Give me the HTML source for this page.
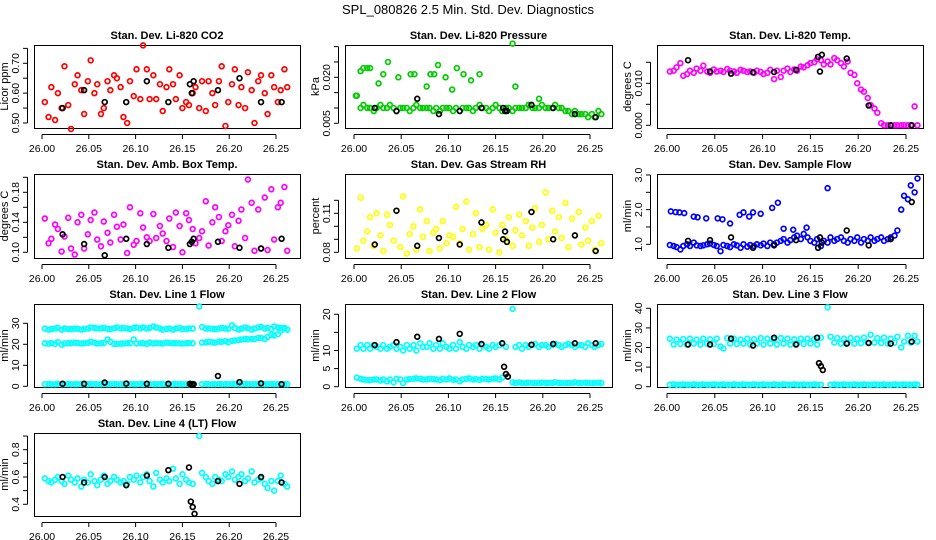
<!DOCTYPE html>
<html><head><meta charset="utf-8"><title>SPL_080826 2.5 Min. Std. Dev. Diagnostics</title>
<style>
html,body{margin:0;padding:0;background:#fff;}
svg{display:block;font-family:"Liberation Sans",sans-serif;}
</style></head>
<body>
<svg id="chart" width="936" height="540" viewBox="0 0 936 540"></svg>
<script>
// ---------- data ----------
const T=[26.003,26.007,26.010,26.014,26.017,26.021,26.024,26.028,26.031,26.035,26.038,26.042,26.045,26.049,26.052,26.056,26.059,26.063,26.066,26.070,26.073,26.077,26.080,26.084,26.087,26.091,26.094,26.098,26.101,26.105,26.108,26.112,26.115,26.119,26.122,26.126,26.129,26.133,26.136,26.140,26.143,26.147,26.150,26.154,26.157,26.161,26.164,26.168,26.171,26.175,26.178,26.182,26.185,26.189,26.192,26.196,26.199,26.203,26.206,26.210,26.213,26.217,26.220,26.224,26.227,26.231,26.234,26.238,26.241,26.245,26.248,26.252,26.255,26.259,26.262];
const blackT=[26.022,26.045,26.067,26.090,26.112,26.135,26.158,26.160,26.162,26.188,26.211,26.234,26.256];
const blackT2=[26.022,26.045,26.067,26.090,26.112,26.135,26.157,26.159,26.161,26.163,26.188,26.211,26.234,26.256];

const co2=[0.57,0.52,0.62,0.51,0.60,0.55,0.69,0.56,0.48,0.63,0.66,0.61,0.53,0.64,0.71,0.60,0.63,0.53,0.55,0.64,0.61,0.66,0.65,0.62,0.52,0.50,0.64,0.59,0.68,0.58,0.76,0.68,0.58,0.66,0.58,0.63,0.54,0.62,0.68,0.63,0.58,0.66,0.55,0.57,0.56,0.60,0.62,0.55,0.64,0.54,0.64,0.60,0.56,0.64,0.69,0.49,0.57,0.63,0.68,0.56,0.62,0.55,0.67,0.61,0.50,0.64,0.66,0.60,0.53,0.66,0.62,0.57,0.61,0.68,0.62];
const co2Black=[0.55,0.61,0.57,0.57,0.64,0.57,0.63,0.60,0.64,0.61,0.65,0.57,0.57];

const press=[0.014,0.010,0.011,0.010,0.010,0.009,0.010,0.011,0.010,0.010,0.011,0.010,0.009,0.010,0.010,0.010,0.009,0.010,0.011,0.010,0.010,0.010,0.010,0.009,0.010,0.009,0.010,0.010,0.010,0.009,0.010,0.009,0.010,0.010,0.010,0.009,0.010,0.011,0.010,0.010,0.009,0.010,0.011,0.010,0.009,0.010,0.010,0.009,0.010,0.010,0.010,0.010,0.011,0.010,0.010,0.010,0.011,0.010,0.010,0.010,0.011,0.010,0.010,0.009,0.009,0.008,0.009,0.008,0.008,0.008,0.007,0.008,0.007,0.009,0.008];
const pressHiT=[26.002,26.007,26.010,26.014,26.017,26.026,26.031,26.036,26.047,26.060,26.064,26.077,26.081,26.085,26.089,26.097,26.104,26.109,26.116,26.124,26.133,26.168,26.171,26.196];
const pressHi=[0.014,0.022,0.023,0.023,0.023,0.018,0.021,0.025,0.020,0.021,0.021,0.017,0.021,0.021,0.024,0.020,0.016,0.023,0.021,0.019,0.021,0.031,0.017,0.013];
const pressBlack=[0.010,0.009,0.013,0.008,0.009,0.010,0.010,0.009,0.009,0.011,0.010,0.008,0.007];

const temp=[0.0128,0.0130,0.0138,0.0148,0.0118,0.0122,0.0130,0.0125,0.0135,0.0130,0.0142,0.0128,0.0125,0.0133,0.0128,0.0130,0.0127,0.0134,0.0130,0.0128,0.0125,0.0132,0.0130,0.0127,0.0128,0.0125,0.0130,0.0127,0.0122,0.0125,0.0132,0.0110,0.0130,0.0115,0.0130,0.0135,0.0127,0.0133,0.0130,0.0140,0.0138,0.0143,0.0148,0.0150,0.0157,0.0155,0.0145,0.0152,0.0145,0.0160,0.0155,0.0148,0.0140,0.0152,0.0125,0.0120,0.0100,0.0085,0.0080,0.0065,0.0048,0.0040,0.0030,0.0005,0.0000,0.0000,0.0000,0.0000,0.0000,0.0000,0.0000,0.0000,0.0000,0.0045,0.0000];
const tempBlack=[0.0155,0.0128,0.0123,0.0126,0.0127,0.0132,0.0163,0.0128,0.0168,0.0159,0.0047,0.0000,0.0000];

const amb=[0.145,0.112,0.118,0.137,0.131,0.101,0.121,0.146,0.105,0.097,0.140,0.150,0.105,0.124,0.143,0.153,0.117,0.108,0.141,0.126,0.113,0.150,0.134,0.117,0.137,0.099,0.160,0.110,0.115,0.152,0.133,0.120,0.115,0.151,0.119,0.135,0.125,0.115,0.145,0.107,0.153,0.135,0.100,0.152,0.143,0.131,0.112,0.119,0.128,0.168,0.109,0.140,0.160,0.147,0.115,0.128,0.136,0.150,0.108,0.142,0.157,0.119,0.197,0.166,0.102,0.157,0.105,0.173,0.103,0.184,0.117,0.160,0.166,0.187,0.102];
const ambBlack=[0.124,0.111,0.096,0.118,0.111,0.106,0.111,0.114,0.118,0.114,0.106,0.105,0.118];

const rh=[0.083,0.122,0.089,0.096,0.107,0.085,0.110,0.093,0.081,0.109,0.101,0.089,0.112,0.084,0.123,0.079,0.094,0.100,0.082,0.113,0.092,0.104,0.081,0.095,0.098,0.083,0.104,0.087,0.093,0.092,0.115,0.087,0.098,0.119,0.082,0.094,0.110,0.084,0.098,0.101,0.082,0.113,0.095,0.080,0.101,0.090,0.107,0.085,0.097,0.109,0.093,0.104,0.085,0.099,0.114,0.088,0.101,0.126,0.090,0.112,0.096,0.107,0.091,0.118,0.084,0.106,0.093,0.111,0.086,0.099,0.089,0.104,0.082,0.108,0.087];
const rhBlack=[0.086,0.112,0.085,0.091,0.086,0.103,0.090,0.096,0.088,0.111,0.090,0.093,0.081];

const flow=[0.98,0.95,0.92,0.85,0.95,1.00,0.95,1.05,0.97,0.95,0.97,1.00,1.02,0.98,0.95,0.80,0.98,0.95,0.92,1.00,0.97,0.90,1.00,0.93,0.98,0.95,1.00,0.97,1.02,0.95,1.05,1.00,1.05,1.10,1.15,1.05,1.12,1.20,1.25,1.15,1.30,1.20,1.10,1.05,1.15,0.95,1.10,1.05,1.20,1.10,1.15,1.20,1.10,1.05,1.15,1.10,1.20,1.05,1.15,1.10,1.20,1.10,1.15,1.20,1.10,1.15,1.20,1.25,1.40,2.00,2.40,2.30,2.70,2.50,2.90];
const flowHiT=[26.004,26.009,26.013,26.018,26.028,26.032,26.041,26.053,26.058,26.066,26.076,26.080,26.086,26.090,26.098,26.110,26.116,26.122,26.132,26.146,26.168];
const flowHi=[1.95,1.93,1.92,1.90,1.80,1.78,1.75,1.75,1.72,1.60,1.85,1.92,1.80,1.92,1.88,2.05,2.20,1.45,1.42,1.48,2.62];
const flowBlack=[1.10,1.12,1.20,0.90,0.97,1.12,0.90,1.20,1.05,1.40,0.97,1.15,2.22];

const l1Hi=[27.5,27,27.2,27.5,27.8,27,27.5,27.3,27.2,27.4,27.4,27,27.3,27.5,28,27.8,27.6,27.6,27.8,27.4,27.2,27.6,28,27.6,27.8,27.5,27.3,27.8,28,27.6,28,27.5,27.8,28.5,28,27.5,27,27.3,27.5,27,27.5,27.8,27.2,27.3,27.5,27.5,null,38,28.3,27.5,27.5,27.4,27.2,27.5,27.8,27.5,27.4,29,27.8,27,27.5,28,27.6,27,27.5,28,28.3,27.5,27.8,27.3,28.5,28,27.8,27.5,27];
const l1Mid=[20.5,20.3,20.6,20.2,21,19.8,20.4,20.6,20.5,20.8,20.6,20.4,20.5,20.7,21.2,20.8,20.4,20.5,20.6,22.3,21.2,20.2,20.2,20.3,20.4,20.5,20.5,22.3,20.4,20.5,20.5,20.2,20.8,20.4,20.6,20.5,20.4,20.8,20.6,20.5,20.6,20.5,20.4,20.5,20.6,20.5,null,null,20.8,20.9,21.2,21,20.8,21.3,21.2,21.5,21,21.6,21.8,22,22.3,22.5,22.4,22.6,22.6,23,23,22.5,23.5,24.5,24.2,24.8,26.5,27.8,27];
const l1Low=[1.0,1.1,1.0,1.0,1.1,1.0,1.0,1.1,1.0,1.0,1.0,1.1,1.0,1.0,1.1,1.0,1.0,1.0,1.1,1.0,1.0,1.1,1.0,1.0,1.0,1.1,1.0,1.0,1.0,1.1,1.0,1.0,1.1,1.0,1.0,1.0,1.1,1.0,1.0,1.0,1.1,1.0,1.0,1.1,1.0,1.2,null,null,1.0,1.1,1.0,1.0,1.0,1.1,1.0,1.0,1.0,1.1,1.0,1.0,1.0,1.1,1.0,1.0,1.0,1.1,1.0,1.0,1.0,1.1,1.0,1.0,1.1,1.0,1.0];
const l1Black=[1.2,1.2,1.8,1.3,1.2,1.2,1.2,1.0,1.0,4.9,2.0,1.4,1.0];

const l2Hi=[10.5,11.5,10.5,11.5,10.5,11.5,11,10.5,11.5,10.5,11,11.5,10.5,11,10,11.5,10.5,11.5,10,12,11,11,12,10.5,11.5,10.5,12,11,10.5,11.5,10.5,12.3,11,10.5,11.5,11,11.5,10.5,11.5,11,10.5,11.5,11,11.5,12,11,null,21.5,11,11.5,10.5,11.5,11,11.5,11.8,11,11.5,11.5,11,11.5,11.8,11.5,11,11.5,11.8,11.5,11,11.5,11.5,11,12,11.5,11,11.5,11.8];
const l2Low=[2.5,2.2,2.0,1.8,1.8,2.0,2.0,1.7,2.0,1.5,2.0,1.2,2.2,2.0,1.0,2.0,2.1,2.2,2.3,2.2,2.0,2.0,2.2,2.1,2.0,1.8,2.2,2.0,2.3,1.9,2.0,1.5,2.0,2.2,2.3,2.0,2.1,1.9,2.2,2.1,2.0,2.2,2.3,2.0,2.5,null,null,1.2,1.0,1.2,1.0,1.0,1.1,1.0,1.0,1.0,1.1,1.0,1.0,1.0,1.2,1.0,1.0,1.0,1.0,1.0,1.2,1.0,1.0,1.1,1.0,1.0,1.0,1.1,1.0];
const l2Black=[11.5,12.3,13.8,13.2,14.6,11.8,12.0,5.5,3.5,2.8,11.6,11.8,12.0,12.0];

const l3Hi=[24.5,21.5,24,21.8,24.3,21.5,24.5,22,24,21.5,24.5,22,24.2,21.8,24.5,20.5,19.5,24.8,22,24.5,21.8,24,22,24.5,21.5,24.2,22,24.8,21.5,24.5,22,24.2,21.5,24.8,22,24.5,21.5,24.2,22,24.5,21.8,24.5,22,24.3,21.5,25,null,40.5,25.5,22.5,24.8,22,24.5,22.3,24.8,22,24.5,22.2,25,22.5,26.5,22.5,24.8,22.3,25,22,24.5,22.5,25.5,20,23,26,22.5,26,23];
const l3Low=[1.0,1.2,1.0,1.0,1.2,1.0,1.0,1.2,1.0,1.0,1.2,1.0,1.0,1.2,1.0,1.0,1.2,1.0,1.0,1.2,1.0,1.0,1.2,1.0,1.0,1.2,1.0,1.0,1.2,1.0,1.0,1.2,1.0,1.0,1.2,1.0,1.0,1.2,1.0,1.0,1.2,1.0,1.0,1.2,1.0,1.0,null,null,1.0,1.2,1.0,1.0,1.2,1.0,1.0,1.2,1.0,1.0,1.2,1.0,1.0,1.2,1.0,1.0,1.2,1.0,1.0,1.2,1.0,1.0,1.2,1.0,1.0,1.2,1.0];
const l3Black=[21.5,21.5,24.5,21,25,21.5,25,12,10.5,8.5,22,22.3,22,23];

const l4=[0.59,0.57,0.56,0.58,0.60,0.57,0.55,0.61,0.58,0.56,0.59,0.53,0.58,0.56,0.62,0.57,0.54,0.58,0.61,0.55,0.57,0.60,0.58,0.56,0.57,0.55,0.60,0.58,0.61,0.56,0.60,0.62,0.57,0.53,0.63,0.58,0.56,0.59,0.57,0.66,0.59,0.55,0.62,0.58,0.56,0.55,null,0.90,0.63,0.60,0.57,0.55,0.60,0.58,0.57,0.62,0.60,0.64,0.58,0.60,0.62,0.57,0.59,0.64,0.56,0.58,0.59,0.55,0.52,0.57,0.50,0.57,0.61,0.55,0.53];
const l4Black=[0.60,0.56,0.60,0.54,0.61,0.65,0.67,0.42,0.38,0.33,0.57,0.55,0.60,0.56];

const xTicks=[26.00,26.05,26.10,26.15,26.20,26.25];

// ---------- drawing ----------
const NS='http://www.w3.org/2000/svg';
const svg=document.getElementById('chart');
function mk(tag,attrs,parent){const e=document.createElementNS(NS,tag);for(const k in attrs)e.setAttribute(k,attrs[k]);(parent||svg).appendChild(e);return e;}

const title=mk('text',{x:468,y:14,'text-anchor':'middle','font-size':13});
title.textContent='SPL_080826  2.5 Min. Std. Dev. Diagnostics';



const cols=[{l:34,r:300,x0:42,x1:276},{l:345,r:612,x0:354,x1:590},{l:657,r:923,x0:667,x1:906}];
const rows=[{t:45,b:128},{t:174,b:258},{t:304,b:387},{t:433,b:516}];

const panels=[
 {name:'co2',title:'Stan. Dev. Li-820 CO2',yl:'Licor ppm',c:0,r:0,v0:0.50,y0:123,v1:0.70,y1:63.3,ticks:[0.50,0.55,0.60,0.65,0.70,0.75],labels:['0.50','0.60','0.70'],dec:2,
  series:[{t:T,v:co2,col:'#ff0000'},{t:blackT,v:co2Black,col:'#000'}]},
 {name:'pressure',title:'Stan. Dev. Li-820 Pressure',yl:'kPa',c:1,r:0,v0:0.005,y0:123.3,v1:0.020,y1:77.3,ticks:[0.005,0.010,0.015,0.020,0.025,0.030],labels:['0.005','0.020'],dec:3,
  series:[{t:T,v:press,col:'#00cc00'},{t:pressHiT,v:pressHi,col:'#00cc00'},{t:blackT,v:pressBlack,col:'#000'}]},
 {name:'li820-temp',title:'Stan. Dev. Li-820 Temp.',yl:'degrees C',c:2,r:0,v0:0,y0:125.3,v1:0.010,y1:83.3,ticks:[0,0.005,0.010,0.015],labels:['0.000','0.010'],dec:3,
  series:[{t:T,v:temp,col:'#ff00ff'},{t:blackT,v:tempBlack,col:'#000'}]},
 {name:'amb-box-temp',title:'Stan. Dev. Amb. Box Temp.',yl:'degrees C',c:0,r:1,v0:0.10,y0:252.3,v1:0.18,y1:192.3,ticks:[0.10,0.12,0.14,0.16,0.18,0.20],labels:['0.10','0.14','0.18'],dec:2,
  series:[{t:T,v:amb,col:'#ff00ff'},{t:blackT,v:ambBlack,col:'#000'}]},
 {name:'gas-stream-rh',title:'Stan. Dev. Gas Stream RH',yl:'percent',c:1,r:1,v0:0.08,y0:252.3,v1:0.11,y1:213.3,ticks:[0.08,0.09,0.10,0.11,0.12],labels:['0.08','0.11'],dec:2,
  series:[{t:T,v:rh,col:'#ffff00'},{t:blackT,v:rhBlack,col:'#000'}]},
 {name:'sample-flow',title:'Stan. Dev. Sample Flow',yl:'ml/min',c:2,r:1,v0:1.0,y0:244.3,v1:3.0,y1:175,ticks:[1.0,1.5,2.0,2.5,3.0],labels:['1.0','2.0','3.0'],dec:1,
  series:[{t:T,v:flow,col:'#0000ff'},{t:flowHiT,v:flowHi,col:'#0000ff'},{t:blackT,v:flowBlack,col:'#000'}]},
 {name:'line1-flow',title:'Stan. Dev. Line 1 Flow',yl:'ml/min',c:0,r:2,v0:0,y0:386.3,v1:30,y1:323.3,ticks:[0,10,20,30],labels:['0','10','20','30'],dec:0,
  series:[{t:T,v:l1Hi,col:'#00ffff'},{t:T,v:l1Mid,col:'#00ffff'},{t:T,v:l1Low,col:'#00ffff'},{t:blackT,v:l1Black,col:'#000'}]},
 {name:'line2-flow',title:'Stan. Dev. Line 2 Flow',yl:'ml/min',c:1,r:2,v0:0,y0:386.7,v1:20,y1:314.3,ticks:[0,5,10,15,20],labels:['0','5','10','20'],dec:0,
  series:[{t:T,v:l2Hi,col:'#00ffff'},{t:T,v:l2Low,col:'#00ffff'},{t:blackT2,v:l2Black,col:'#000'}]},
 {name:'line3-flow',title:'Stan. Dev. Line 3 Flow',yl:'ml/min',c:2,r:2,v0:0,y0:386.7,v1:40,y1:308.3,ticks:[0,10,20,30,40],labels:['0','10','20','30','40'],dec:0,
  series:[{t:T,v:l3Hi,col:'#00ffff'},{t:T,v:l3Low,col:'#00ffff'},{t:blackT2,v:l3Black,col:'#000'}]},
 {name:'line4-flow',title:'Stan. Dev. Line 4 (LT) Flow',yl:'ml/min',c:0,r:3,v0:0.4,y0:504.3,v1:0.8,y1:449.7,ticks:[0.4,0.5,0.6,0.7,0.8,0.9],labels:['0.4','0.6','0.8'],dec:1,
  series:[{t:T,v:l4,col:'#00ffff'},{t:blackT2,v:l4Black,col:'#000'}]}
];

panels.forEach(p=>{
  const C=cols[p.c],R=rows[p.r];
  const g=mk('g',{});
  
  
  const xs=t=>C.x0+(t-26.0)/(0.25)*(C.x1-C.x0);
  const ys=v=>p.y0+(v-p.v0)/(p.v1-p.v0)*(p.y1-p.y0);
  const box=mk('rect',{x:C.l+0.5,y:R.t+0.5,width:C.r-C.l,height:R.b-R.t,fill:'none',stroke:'#000','stroke-width':1},g);
  
  
  const tt=mk('text',{x:(C.l+C.r)/2,y:R.t-6,'text-anchor':'middle','font-size':11,'font-weight':'bold'},g);
  tt.textContent=p.title;
  
  
  const xa=mk('g',{},g);
  
  
  mk('line',{x1:xs(xTicks[0]),x2:xs(xTicks[xTicks.length-1]),y1:R.b+6.5,y2:R.b+6.5,stroke:'#000'},xa);
  xTicks.forEach(t=>{
    mk('line',{x1:xs(t),x2:xs(t),y1:R.b+6.5,y2:R.b+11,stroke:'#000'},xa);
    const lb=mk('text',{x:xs(t),y:R.b+24,'text-anchor':'middle','font-size':10.5},xa);
    lb.textContent=t.toFixed(2);
    
    
  });
  const ya=mk('g',{},g);
  
  
  const tk=p.ticks;
  mk('line',{x1:C.l-6.5,x2:C.l-6.5,y1:ys(tk[0]),y2:ys(tk[tk.length-1]),stroke:'#000'},ya);
  tk.forEach(v=>{
    mk('line',{x1:C.l-11,x2:C.l-6.5,y1:ys(v),y2:ys(v),stroke:'#000'},ya);
    const s=v.toFixed(p.dec);
    if(p.labels.indexOf(s)>=0){
      const lb=mk('text',{x:C.l-15,y:ys(v),'text-anchor':'middle','font-size':10.5,transform:`rotate(-90 ${C.l-15} ${ys(v)})`},ya);
      lb.textContent=s;
      
      
    }
  });
  const yl=mk('text',{x:C.l-26,y:(R.t+R.b)/2,'text-anchor':'middle','font-size':11,transform:`rotate(-90 ${C.l-26} ${(R.t+R.b)/2})`},g);
  yl.textContent=p.yl;
  
  
  p.series.forEach((s,si)=>{
    const sg=mk('g',{},g);
    
    
    s.v.forEach((v,i)=>{
      if(v===null||v===undefined)return;
      const c=mk('circle',{cx:xs(s.t[i]),cy:ys(v),r:2.4,fill:'none',stroke:s.col,'stroke-width':1.7},sg);
      
      
    });
  });
});
</script>
</body></html>
